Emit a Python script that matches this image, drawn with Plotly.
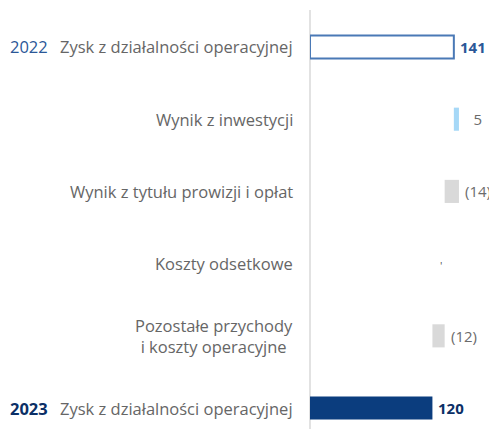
import plotly.graph_objects as go

categories = [
    "Zysk z działalności operacyjnej",
    "Wynik z inwestycji",
    "Wynik z tytułu prowizji i opłat",
    "Koszty odsetkowe",
    "Pozostałe przychody<br>i koszty operacyjne",
    "Zysk z działalności operacyjnej",
]
years = ["2022", "", "", "", "", "2023"]
values = [141, 5, -14, 0, -12, 120]
kinds = ["total", "delta", "delta", "delta", "delta", "total"]
value_labels = ["141", "\u20075", "(14)", "'", "(12)", "120"]

# compute bases from the running total
bases, lengths = [], []
running = 0
for v, k in zip(values, kinds):
    if k == "total":
        bases.append(0)
        lengths.append(v)
        running = v
    else:
        bases.append(running)
        lengths.append(v)
        running += v

idx = list(range(len(categories)))
fill_colors = ["#ffffff", "#a6d8f7", "#d9d9d9", "#d9d9d9", "#d9d9d9", "#0b3d7e"]
line_colors = ["#4a79b6", "#a6d8f7", "#d9d9d9", "#d9d9d9", "#d9d9d9", "#0b3d7e"]
line_widths = [2, 0, 0, 0, 0, 0]

fig = go.Figure()
fig.add_trace(go.Bar(
    y=idx, x=lengths, base=bases, orientation="h", width=0.32,
    marker=dict(color=fill_colors, line=dict(color=line_colors, width=line_widths)),
    hoverinfo="skip",
))

FONT = "Open Sans"
FS = 16.5
label_colors = ["#2b5797", "#6b6b6b", "#6b6b6b", "#6b6b6b", "#6b6b6b", "#0b2f66"]
annotations = []
for i in idx:
    end = max(bases[i], bases[i] + lengths[i])
    txt = value_labels[i]
    tiny = txt == "'"
    if i in (0, 5):
        txt = "<b>" + txt + "</b>"
    annotations.append(dict(
        x=end, y=i, xref="x", yref="y", text=txt, showarrow=False,
        xanchor="right" if tiny else "left", xshift=-1 if tiny else 4,
        yshift=-2 if tiny else 0,
        font=dict(family=FONT, size=11 if tiny else 15, color="#555555" if tiny else label_colors[i]),
    ))
    annotations.append(dict(
        x=0, y=i, xref="paper", yref="y", text=categories[i], showarrow=False,
        xanchor="right", xshift=-15, align="center",
        font=dict(family=FONT, size=FS, color="#666666"),
    ))
    if years[i]:
        annotations.append(dict(
            x=0, y=i, xref="paper", yref="y",
            text=("<b>" + years[i] + "</b>") if i == 5 else years[i],
            showarrow=False, xanchor="left", xshift=-302,
            font=dict(family=FONT, size=FS, color="#2b5797" if i == 0 else "#0b2f66"),
        ))

# page body has an 8px margin; size the figure so the page does not scroll
fig.update_layout(
    width=489, height=421,
    margin=dict(l=302, r=0, t=2, b=0),
    plot_bgcolor="white", paper_bgcolor="white",
    showlegend=False,
    annotations=annotations,
    xaxis=dict(range=[0, 183.3], showgrid=False, showticklabels=False, ticks="",
               zeroline=True, zerolinecolor="#e2e2e2", zerolinewidth=2, fixedrange=True),
    yaxis=dict(range=[5.29, -0.512], showgrid=False, showticklabels=False, ticks="",
               zeroline=False, fixedrange=True),
)

fig.write_html("out.html")
